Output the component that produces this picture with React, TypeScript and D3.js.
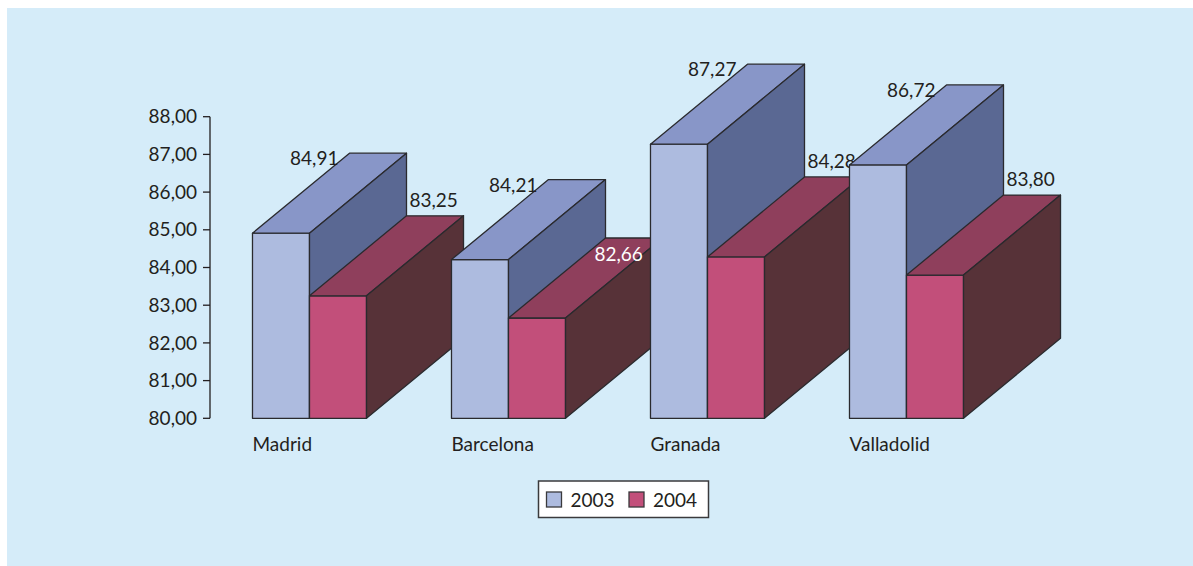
import React from "react";
import * as d3 from "d3";

const categories = ["Madrid", "Barcelona", "Granada", "Valladolid"];
const seriesNames = ["2003", "2004"];
const values2003 = [84.91, 84.21, 87.27, 86.72];
const values2004 = [83.25, 82.66, 84.28, 83.8];
const yTicks = [80, 81, 82, 83, 84, 85, 86, 87, 88];
// labels drawn inside the top face (white) instead of above it
const insideLabel2004 = [false, true, false, false];

const W = 1193;
const H = 566;
const FONT = "Lato, 'Open Sans', sans-serif";

const palette = [
  { front: "#adbbdf", top: "#8896c8", side: "#5a6893" },
  { front: "#c24f7a", top: "#8f3f5c", side: "#573238" },
];

const fmt = (v: number) => v.toFixed(2).replace(".", ",");

export default function App() {
  const y = d3.scaleLinear().domain([80, 88]).range([418.3, 116.7]);
  const x = d3
    .scaleBand<string>()
    .domain(categories)
    .range([210, 1006])
    .paddingInner(0.427)
    .paddingOuter(0.2135);
  const bw = x.bandwidth() / 2;
  const dx = 97;
  const dy = 80;
  const axisX = 210;
  const series = [values2003, values2004];
  const y0 = y(80);

  const groups = categories.map((c, ci) => {
    const items: React.ReactNode[] = [];
    series.forEach((vals, si) => {
      const v = vals[ci];
      const x0 = (x(c) as number) + si * bw;
      const x1 = x0 + bw;
      const yv = y(v);
      const col = palette[si];
      const pts = (a: number[][]) => a.map((p) => p.join(",")).join(" ");
      items.push(
        <g key={`b${si}`} stroke="#2a2a2e" strokeWidth={1.3} strokeLinejoin="round">
          <rect x={x0} y={yv} width={bw} height={y0 - yv} fill={col.front} />
          <polygon
            points={pts([[x0, yv], [x0 + dx, yv - dy], [x1 + dx, yv - dy], [x1, yv]])}
            fill={col.top}
          />
          <polygon
            points={pts([[x1, yv], [x1 + dx, yv - dy], [x1 + dx, y0 - dy], [x1, y0]])}
            fill={col.side}
          />
        </g>
      );
    });
    series.forEach((vals, si) => {
      const v = vals[ci];
      const x0 = (x(c) as number) + si * bw;
      const cx = x0 + dx;
      const cy = y(v) - dy;
      let tx: number, ty: number, anchor: string, fill = "#231f20";
      if (si === 0) {
        tx = cx - 11;
        ty = cy + 12;
        anchor = "end";
      } else if (insideLabel2004[ci]) {
        tx = cx - 11;
        ty = cy + 23;
        anchor = "start";
        fill = "#ffffff";
      } else {
        tx = cx + 3;
        ty = cy - 9;
        anchor = "start";
      }
      items.push(
        <text
          key={`l${si}`}
          x={tx}
          y={ty}
          textAnchor={anchor}
          fill={fill}
          fontSize={19}
          fontFamily={FONT}
        >
          {fmt(v)}
        </text>
      );
    });
    return <g key={c}>{items}</g>;
  });

  return (
    <svg
      width={W}
      height={H}
      style={{ position: "absolute", left: 0, top: 0 }}
      fontFamily={FONT}
    >
      <rect x={0} y={0} width={W} height={H} fill="#ffffff" />
      <rect x={7} y={8} width={W - 7} height={H - 8} fill="#d5ecf9" />
      {/* y axis */}
      <line x1={axisX} x2={axisX} y1={y(88)} y2={y(80)} stroke="#231f20" strokeWidth={1.3} />
      {yTicks.map((t) => (
        <g key={t}>
          <line x1={axisX - 7} x2={axisX} y1={y(t)} y2={y(t)} stroke="#231f20" strokeWidth={1.3} />
          <text
            x={axisX - 13}
            y={y(t)}
            dy="0.35em"
            textAnchor="end"
            fontSize={19}
            fill="#231f20"
          >
            {fmt(t)}
          </text>
        </g>
      ))}
      {groups}
      {categories.map((c) => (
        <text key={c} x={x(c) as number} y={451} fontSize={19} fill="#231f20">
          {c}
        </text>
      ))}
      {/* legend */}
      <g>
        <rect x={538.5} y={481} width={170} height={36.5} fill="#ffffff" stroke="#3a3a3c" strokeWidth={1.5} />
        {seriesNames.map((s, i) => (
          <g key={s} transform={`translate(${546.5 + i * 82.5},0)`}>
            <rect x={0} y={492} width={15} height={15} fill={palette[i].front} stroke="#3a3a3c" strokeWidth={1.3} />
            <text x={24} y={506.5} fontSize={19} fill="#231f20">
              {s}
            </text>
          </g>
        ))}
      </g>
    </svg>
  );
}
